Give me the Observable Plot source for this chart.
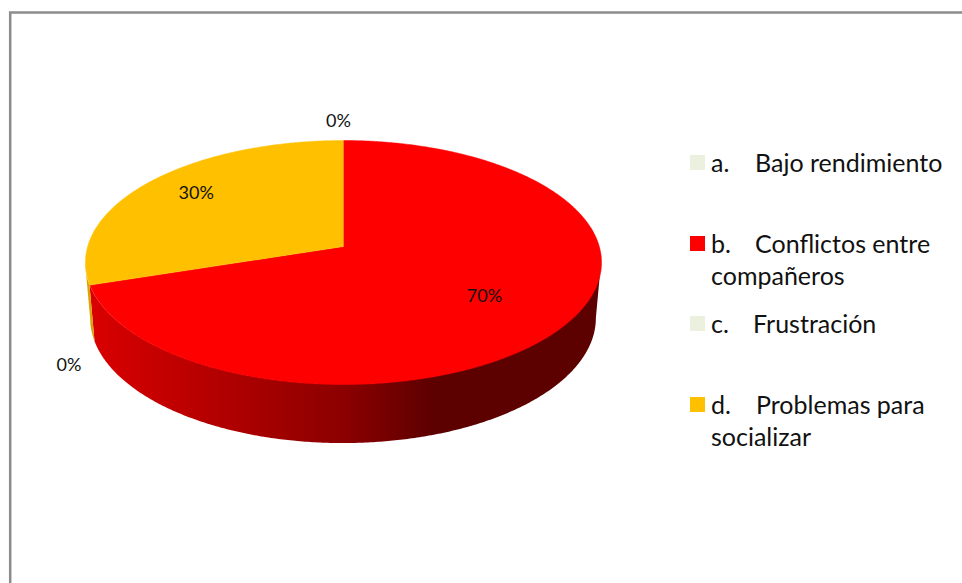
<!DOCTYPE html>
<html>
<head>
<meta charset="utf-8">
<script src="https://cdn.jsdelivr.net/npm/d3@7"></script>
<script src="https://cdn.jsdelivr.net/npm/@observablehq/plot@0.6"></script>
<style>
  html, body { margin: 0; padding: 0; background: #fff; overflow: hidden; }
  #wrap { position: relative; width: 962px; height: 583px; overflow: hidden; font-family: Lato, "Open Sans", sans-serif; color: #111; }
  #wrap svg { display: block; position: absolute; left: 0; top: 0; }
  #wrap svg text { font-family: Lato, "Open Sans", sans-serif !important; }
  .item { position: absolute; left: 690px; font-size: 25px; line-height: 32px; white-space: nowrap; }
  .sw { position: absolute; left: 0; top: 9px; width: 15px; height: 15px; }
  .ln { display: block; margin-left: 21px; }
  .mk { display: inline-block; }
</style>
</head>
<body>
<div id="wrap"></div>
<script>
// Data
const categories = ["a.", "b.", "c.", "d."];
const names = [["Bajo rendimiento"], ["Conflictos entre", "compañeros"], ["Frustración"], ["Problemas para", "socializar"]];
const values = [0, 70, 0, 30];
const colors = ["#EBF1DE", "#FF0000", "#EBF1DE", "#FFC000"];

// Layout of the pie and its labels
const tilt = 0.1311;                 // perspective of the disc
const bottomScaleX = 0.98, bottomScaleY = 1.025, bottomDrop = 0.464;
const labelOffsets = [[-5, -19], [4, 3], [-21, 80], [-23, -11]];
const labelRadius = [1.0, 0.63, 1.0, 0.63];
const itemTops = [146, 227, 307, 388];
const markWidths = [44, 44, 42, 45];

const rad = d => d * Math.PI / 180;
const top3d = (deg, r = 1) => {
  const u = r * Math.sin(rad(deg)), v = r * Math.cos(rad(deg)), w = 1 + tilt * v;
  return [u / w, v / w];
};
const low3d = deg => {
  const [x, y] = top3d(deg);
  return [x * bottomScaleX, y * bottomScaleY - bottomDrop];
};

// Slices
const total = d3.sum(values);
let acc = 0;
const slices = values.map((v, i) => {
  const start = acc; acc += v / total * 360;
  return {i, cat: categories[i], value: v, start, end: acc, mid: (start + acc) / 2, color: colors[i]};
});

// Top faces
const faces = slices.filter(s => s.value > 0).flatMap(s => {
  const pts = [{cat: s.cat, color: s.color, p: [0, 0]}];
  for (let a = s.start; a < s.end; a += 0.5) pts.push({cat: s.cat, color: s.color, p: top3d(a)});
  pts.push({cat: s.cat, color: s.color, p: top3d(s.end)});
  return pts;
});

// Visible wall: from the right silhouette to the left one, one shape per slice, filled with a gradient
const visibleFrom = Math.acos(-tilt) * 180 / Math.PI, visibleTo = 360 - visibleFrom;
const lightStops = [[-1, 0.86], [0, 0.55], [0.36, 0.36], [1, 0.36]];
const visible = slices.filter(s => s.value > 0 && Math.min(s.end, visibleTo) > Math.max(s.start, visibleFrom));
const wallMarks = visible.map(s => {
  const from = Math.max(s.start, visibleFrom), to = Math.min(s.end, visibleTo), pts = [];
  for (let a = from; a < to; a += 0.5) pts.push({t: top3d(a), l: low3d(a)});
  pts.push({t: top3d(to), l: low3d(to)});
  return Plot.area(pts, {x1: d => d.t[0], y1: d => d.t[1], x2: d => d.l[0], y2: d => d.l[1], fill: `url(#wall${s.i})`});
});

// Value labels
const labels = slices.map((s, i) => {
  const [x, y] = top3d(s.mid, labelRadius[i]);
  return {x, y, text: `${Math.round(s.value)}%`, off: labelOffsets[i]};
});

const chart = Plot.plot({
  width: 962, height: 583,
  marginTop: 0, marginRight: 0, marginBottom: 0, marginLeft: 0,
  x: {domain: [-1, 1], range: [87.2, 598.8], axis: null},
  y: {domain: [-1, 1], range: [365.9, 126.1], axis: null},
  marks: [
    Plot.frame({stroke: "#8c8c8c", strokeWidth: 2.5, insetLeft: 9.7, insetTop: 12, insetRight: -10, insetBottom: -10}),
    ...wallMarks,
    Plot.line(faces, {x: d => d.p[0], y: d => d.p[1], z: "cat", fill: "color", stroke: "color", strokeWidth: 0.5}),
    ...labels.map(l => Plot.text([l], {x: "x", y: "y", text: "text", dx: l.off[0], dy: l.off[1], fontSize: 18, fill: "#111"}))
  ]
});

// Gradients for the walls, laid out through the plot's own x scale
const defs = d3.select(chart).insert("defs", ":first-child");
visible.forEach(s => {
  const sx = chart.scale("x").apply, c = d3.rgb(s.color);
  const g = defs.append("linearGradient").attr("id", `wall${s.i}`).attr("gradientUnits", "userSpaceOnUse")
    .attr("x1", sx(-1)).attr("x2", sx(1)).attr("y1", 0).attr("y2", 0);
  lightStops.forEach(([x, f]) => g.append("stop").attr("offset", (x + 1) / 2)
    .attr("stop-color", d3.rgb(c.r * f, c.g * f, c.b * f).formatHex()));
});

const wrap = document.getElementById("wrap");
wrap.appendChild(chart);

// Legend
categories.forEach((c, i) => {
  const item = d3.select(wrap).append("div").attr("class", "item").style("top", itemTops[i] + "px");
  item.append("span").attr("class", "sw").style("background", colors[i]);
  names[i].forEach((line, j) => {
    const ln = item.append("span").attr("class", "ln");
    if (j === 0) ln.append("span").attr("class", "mk").style("width", markWidths[i] + "px").text(c);
    ln.append("span").text(line);
  });
});
</script>
</body>
</html>
